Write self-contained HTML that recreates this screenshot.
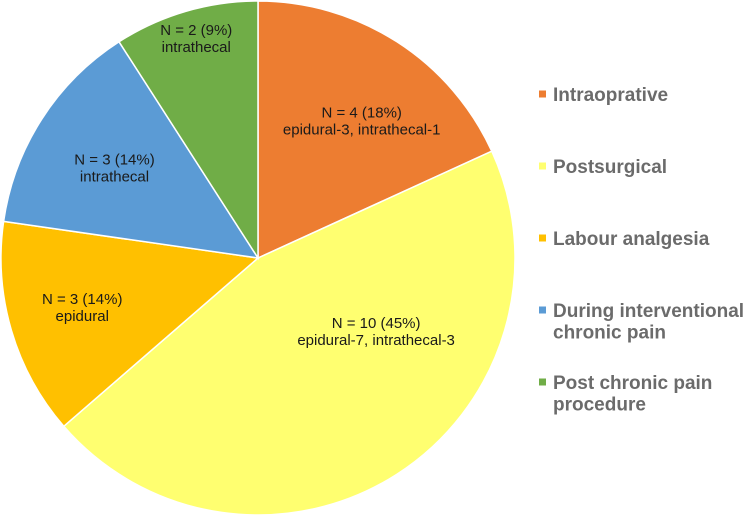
<!DOCTYPE html>
<html><head><meta charset="utf-8"><style>
body{margin:0;background:#fff;width:746px;height:516px;overflow:hidden;font-family:"Liberation Sans",sans-serif}
svg{display:block}
.lbl{font-size:15px;fill:#1a1a1a;text-anchor:middle}
.leg{font-size:19px;font-weight:bold;fill:#6b6b6b}
</style></head><body>
<svg id="chart" width="746" height="516"></svg>
<script>
const categories=["Intraoprative","Postsurgical","Labour analgesia","During interventional chronic pain","Post chronic pain procedure"];
const values=[4,10,3,3,2];
const labelLine1=["N = 4 (18%)","N = 10 (45%)","N = 3 (14%)","N = 3 (14%)","N = 2 (9%)"];
const labelLine2=["epidural-3, intrathecal-1","epidural-7, intrathecal-3","epidural","intrathecal","intrathecal"];
const legendLines=[["Intraoprative"],["Postsurgical"],["Labour analgesia"],["During interventional","chronic pain"],["Post chronic pain","procedure"]];
const colors=["#ED7D31","#FFFF70","#FFC000","#5B9BD5","#70AD47"];
const labelR=[0.67,0.54,0.71,0.66,0.89];
const labelAngOff=[4.3,-25.6,0.8,-0.5,0.7];
const ns="http://www.w3.org/2000/svg";
const svg=document.getElementById('chart');
const cx=258,cy=258,R=257;
const total=values.reduce((a,b)=>a+b,0);
function pt(a,r){return [cx+r*Math.sin(a),cy-r*Math.cos(a)];}
let start=0;
values.forEach((v,i)=>{
  const end=start+v/total*2*Math.PI;
  const [x1,y1]=pt(start,R),[x2,y2]=pt(end,R);
  const p=document.createElementNS(ns,'path');
  p.setAttribute('d',`M${cx},${cy}L${x1},${y1}A${R},${R} 0 ${end-start>Math.PI?1:0} 1 ${x2},${y2}Z`);
  p.setAttribute('fill',colors[i]);p.setAttribute('stroke','#fff');p.setAttribute('stroke-width','1.5');
  
  
  svg.appendChild(p);
  const mid=(start+end)/2+labelAngOff[i]*Math.PI/180;
  const [lx,ly]=pt(mid,R*labelR[i]);
  const t=document.createElementNS(ns,'text');
  t.setAttribute('class','lbl');t.setAttribute('x',lx);t.setAttribute('y',ly-3);
  t.textContent=labelLine1[i];
  
  
  svg.appendChild(t);
  const t2=document.createElementNS(ns,'text');
  t2.setAttribute('class','lbl');t2.setAttribute('x',lx);t2.setAttribute('y',ly+14);
  t2.textContent=labelLine2[i];
  
  
  svg.appendChild(t2);
  start=end;
});
const legY=[94,166,238,310,382];
legendLines.forEach((lines,i)=>{
  const r=document.createElementNS(ns,'rect');
  r.setAttribute('x',539);r.setAttribute('y',legY[i]-3.5);r.setAttribute('width',7);r.setAttribute('height',7);
  r.setAttribute('fill',colors[i]);
  
  
  svg.appendChild(r);
  lines.forEach((s,j)=>{
    const t=document.createElementNS(ns,'text');
    t.setAttribute('class','leg');t.setAttribute('x',553);t.setAttribute('y',legY[i]+7+j*21.5);
    t.textContent=s;
    
    
    svg.appendChild(t);
  });
});
</script>
</body></html>
